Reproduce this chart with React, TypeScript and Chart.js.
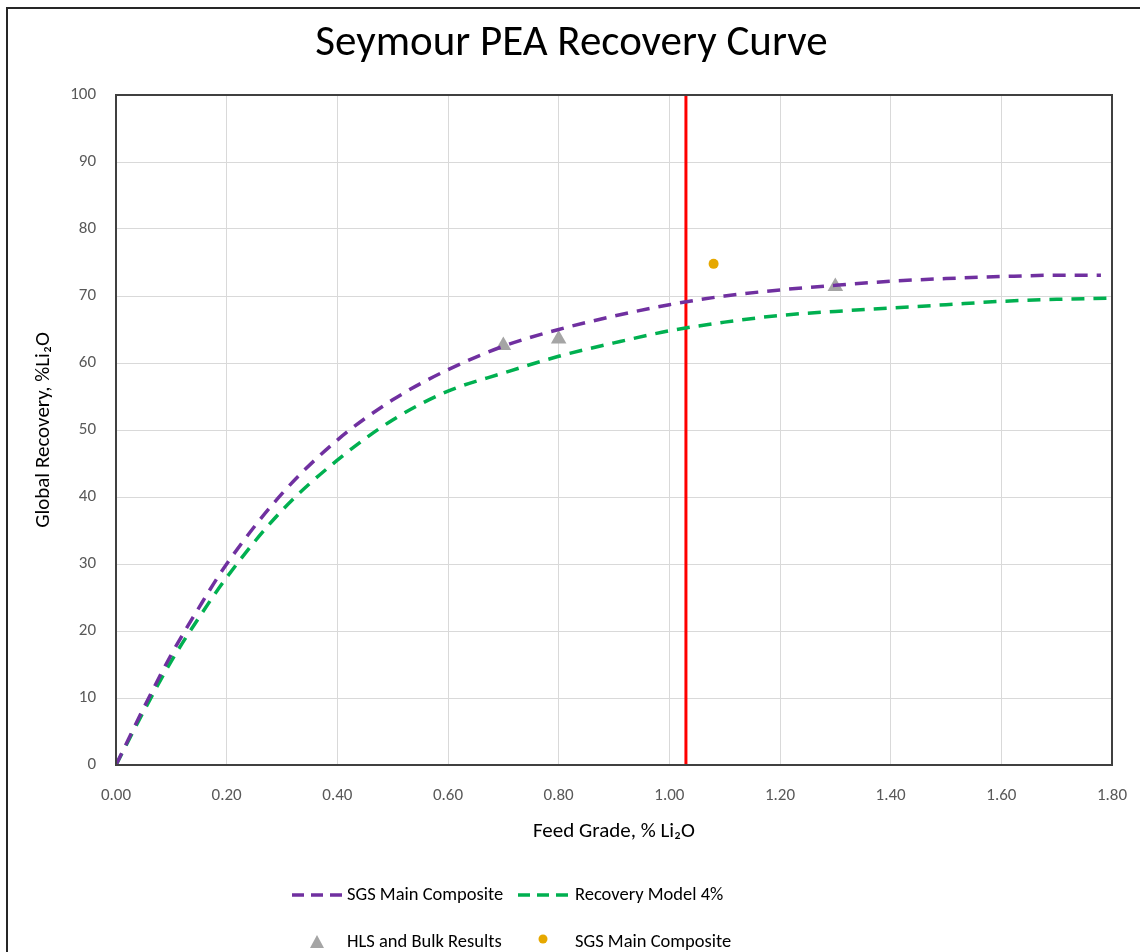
import React, { useEffect, useRef } from "react";
import { Chart, registerables } from "chart.js";

Chart.register(...registerables);

const FONT = 'Carlito, Lato, "Noto Sans", sans-serif';

// SGS Main Composite recovery curve (dashed purple)
const sgsCurveGrade = [0, 0.05, 0.1, 0.15, 0.2, 0.3, 0.4, 0.5, 0.6, 0.7, 0.8, 0.9, 1.0, 1.1, 1.2, 1.3, 1.4, 1.5, 1.6, 1.7, 1.78];
const sgsCurveRecovery = [0, 8.5, 16.5, 23.5, 30, 40.5, 48.5, 54.5, 59, 62.5, 65, 67, 68.7, 70, 70.9, 71.6, 72.2, 72.6, 72.9, 73.1, 73.1];

// Recovery Model 4% (dashed green)
const modelGrade = [0, 0.05, 0.1, 0.15, 0.2, 0.3, 0.4, 0.5, 0.6, 0.7, 0.8, 0.9, 1.0, 1.1, 1.2, 1.3, 1.4, 1.5, 1.6, 1.7, 1.8];
const modelRecovery = [0, 8, 15.5, 22, 28, 38, 45.5, 51.5, 55.8, 58.5, 61, 63, 64.8, 66.1, 67.1, 67.7, 68.2, 68.7, 69.2, 69.5, 69.7];

// HLS and Bulk Results (grey triangles)
const hlsGrade = [0.7, 0.8, 1.3];
const hlsRecovery = [62.6, 63.6, 71.4];

// SGS Main Composite test point (gold circle)
const sgsPointGrade = [1.08];
const sgsPointRecovery = [74.8];

// Red cut-off line
const cutoffGrade = 1.03;

const TITLE = "Seymour PEA Recovery Curve";
const X_TITLE = "Feed Grade, % Li\u2082O";
const Y_TITLE = "Global Recovery, %Li\u2082O";

const PURPLE = "#7030a0";
const GREEN = "#00b050";
const GREY = "#a5a5a5";
const GOLD = "#e6a800";

const toPoints = (xs: number[], ys: number[]) => xs.map((x, i) => ({ x, y: ys[i] }));

const boxPlugin = {
  id: "plotBox",
  afterDraw(chart: any) {
    const { ctx, chartArea } = chart;
    ctx.save();
    ctx.strokeStyle = "#404040";
    ctx.lineWidth = 2;
    ctx.strokeRect(chartArea.left, chartArea.top, chartArea.right - chartArea.left, chartArea.bottom - chartArea.top);
    ctx.restore();
  },
};

const legendPlugin = {
  id: "customLegend",
  afterDraw(chart: any) {
    const { ctx } = chart;
    ctx.save();
    ctx.font = `18.5px ${FONT}`;
    ctx.fillStyle = "#000";
    ctx.textBaseline = "middle";
    ctx.textAlign = "left";
    const r1 = 895;
    const r2 = 942;
    const dashLine = (x0: number, x1: number, y: number, color: string) => {
      ctx.save();
      ctx.strokeStyle = color;
      ctx.lineWidth = 3.5;
      ctx.setLineDash([12, 7]);
      ctx.beginPath();
      ctx.moveTo(x0, y);
      ctx.lineTo(x1, y);
      ctx.stroke();
      ctx.restore();
    };
    dashLine(292, 343, r1, PURPLE);
    ctx.fillText("SGS Main Composite", 347, r1);
    dashLine(518, 570, r1, GREEN);
    ctx.fillText("Recovery Model 4%", 575, r1);
    ctx.fillStyle = GREY;
    ctx.beginPath();
    ctx.moveTo(317, r2 - 7);
    ctx.lineTo(324, r2 + 6);
    ctx.lineTo(310, r2 + 6);
    ctx.closePath();
    ctx.fill();
    ctx.fillStyle = "#000";
    ctx.fillText("HLS and Bulk Results", 347, r2);
    ctx.fillStyle = GOLD;
    ctx.beginPath();
    ctx.arc(543, r2 - 3, 4.5, 0, Math.PI * 2);
    ctx.fill();
    ctx.fillStyle = "#000";
    ctx.fillText("SGS Main Composite", 575, r2);
    ctx.restore();
  },
};

export default function App() {
  const ref = useRef<HTMLCanvasElement | null>(null);

  useEffect(() => {
    if (!ref.current) return;
    const chart = new Chart(ref.current, {
      type: "line",
      data: {
        datasets: [
          {
            label: "SGS Main Composite",
            data: toPoints(sgsCurveGrade, sgsCurveRecovery),
            borderColor: PURPLE,
            borderWidth: 3.5,
            borderDash: [13, 9],
            pointRadius: 0,
            cubicInterpolationMode: "monotone",
            fill: false,
          },
          {
            label: "Recovery Model 4%",
            data: toPoints(modelGrade, modelRecovery),
            borderColor: GREEN,
            borderWidth: 3.5,
            borderDash: [13, 9],
            pointRadius: 0,
            cubicInterpolationMode: "monotone",
            fill: false,
          },
          {
            label: "Cut-off",
            data: [
              { x: cutoffGrade, y: 0 },
              { x: cutoffGrade, y: 100 },
            ],
            borderColor: "#ff0000",
            borderWidth: 3,
            pointRadius: 0,
            fill: false,
          },
          {
            label: "HLS and Bulk Results",
            data: toPoints(hlsGrade, hlsRecovery),
            showLine: false,
            pointStyle: "triangle",
            pointRadius: 9,
            backgroundColor: GREY,
            borderColor: GREY,
            borderWidth: 0,
          },
          {
            label: "SGS Main Composite",
            data: toPoints(sgsPointGrade, sgsPointRecovery),
            showLine: false,
            pointStyle: "circle",
            pointRadius: 5,
            backgroundColor: GOLD,
            borderColor: GOLD,
            borderWidth: 0,
          },
        ],
      },
      options: {
        animation: false,
        responsive: false,
        maintainAspectRatio: false,
        layout: { padding: { left: 31, right: 28, top: 0, bottom: 107.4 } },
        plugins: {
          legend: { display: false },
          tooltip: { enabled: false },
          title: {
            display: true,
            text: TITLE,
            color: "#000",
            font: { family: FONT, size: 43, weight: "normal" },
            padding: { top: 18, bottom: 25.4 },
          },
        },
        scales: {
          x: {
            type: "linear",
            min: 0,
            max: 1.8,
            ticks: {
              stepSize: 0.2,
              padding: 21,
              color: "#595959",
              font: { family: FONT, size: 17 },
              callback: (v: any) => Number(v).toFixed(2),
            },
            grid: { color: "#d9d9d9", lineWidth: 1, drawTicks: false },
            border: { display: false },
            title: {
              display: true,
              text: X_TITLE,
              color: "#000",
              font: { family: FONT, size: 21 },
              padding: 0,
            },
            afterFit: (s: any) => {
              s.height = 79.6;
              s.paddingLeft = 0;
              s.paddingRight = 0;
            },
          },
          y: {
            type: "linear",
            min: 0,
            max: 100,
            ticks: {
              stepSize: 10,
              padding: 20,
              color: "#595959",
              font: { family: FONT, size: 17 },
            },
            grid: { color: "#d9d9d9", lineWidth: 1, drawTicks: false },
            border: { display: false },
            title: {
              display: true,
              text: Y_TITLE,
              color: "#000",
              font: { family: FONT, size: 21 },
              padding: 0,
            },
            afterFit: (s: any) => {
              s.width = 85;
            },
          },
        },
      },
      plugins: [boxPlugin, legendPlugin],
    } as any);
    return () => chart.destroy();
  }, []);

  return (
    <div
      style={{
        position: "fixed",
        left: 0,
        top: 0,
        width: 1140,
        height: 952,
        overflow: "hidden",
        background: "#fff",
      }}
    >
      <div
        style={{
          position: "absolute",
          left: 6,
          top: 7,
          width: 1200,
          height: 1100,
          border: "2px solid #262626",
        }}
      />
      <canvas ref={ref} width={1140} height={952} style={{ position: "absolute", left: 0, top: 0 }} />
    </div>
  );
}
